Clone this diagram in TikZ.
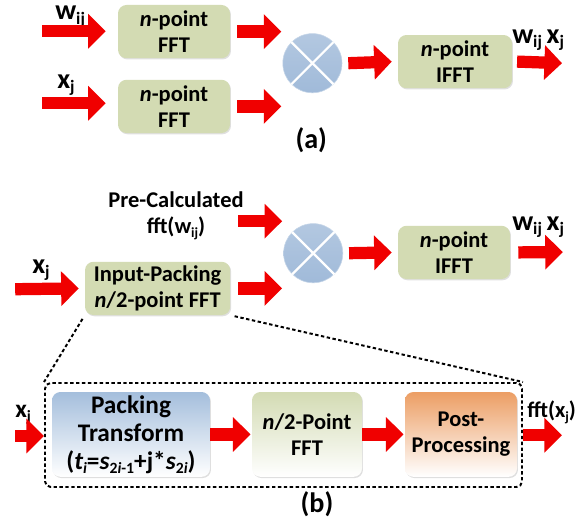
\documentclass[tikz,border=0pt]{standalone}
\usepackage{fontspec}
\setmainfont{Carlito}
\usetikzlibrary{arrows.meta, positioning, shapes.geometric, fit, shadows, calc}
\definecolor{boxgreen}{RGB}{211,219,179}
\definecolor{mulblue}{RGB}{160,186,217}
\definecolor{packblue}{RGB}{164,190,220}
\definecolor{postorange}{RGB}{236,158,100}
\definecolor{arrred}{RGB}{240,0,0}
\newcommand{\lo}[1]{\raisebox{-0.35ex}{\scalebox{0.62}{#1}}}

\begin{document}
\begin{tikzpicture}[
  font=\bfseries\fontsize{16}{18.5}\selectfont,
  blk/.style={rectangle, rounded corners=6pt, fill=boxgreen, align=center,
              minimum width=2.8cm, minimum height=1.33cm, inner sep=2pt,
              drop shadow={shadow xshift=0.7pt, shadow yshift=-0.9pt, opacity=0.25}},
  grad/.style={rectangle, rounded corners=6pt, align=center, bottom color=white,
               minimum height=2.12cm, inner sep=2pt,
               drop shadow={shadow xshift=0.7pt, shadow yshift=-0.9pt, opacity=0.25}},
  mul/.style={circle, minimum size=1.48cm, inner sep=0pt, top color=mulblue!80,
              bottom color=mulblue, draw=mulblue!60, line width=0.4pt},
  cross/.style={white, line width=1.6pt},
  arr/.style={-{Triangle[length=12.5pt, width=24pt]}, arrred, line width=8.7pt},
  lbl/.style={inner sep=0pt, anchor=base west, font=\bfseries\fontsize{20}{22}\selectfont},
  caption/.style={font=\bfseries\fontsize{20}{22}\selectfont},
  dsh/.style={line width=1.4pt, dash pattern=on 2.4pt off 1.8pt},
  zoom/.style={draw, dsh, rounded corners=4pt, inner sep=0pt}
]
\useasboundingbox (0,0) rectangle (14.675,-13.075);

% (a)
\node[blk] (fftw) at (4.35,-0.79) {\textit{n}-point\\FFT};
\node[blk] (fftx) at (4.35,-2.66) {\textit{n}-point\\FFT};
\node[mul] (mula) at (7.81,-1.58) {};
\draw[cross] (mula.45) -- (mula.225) (mula.135) -- (mula.315);
\node[blk, minimum width=2.85cm] (iffta) at (11.375,-1.54) {\textit{n}-point\\IFFT};
\coordinate (inw) at (1.05,-0.78);
\coordinate (inx) at (1.05,-2.58);
\coordinate (outa) at (14.05,-1.58);
\node[lbl] (lw) at (1.375,-0.5) {w\lo{ij}};
\node[lbl] (lx) at (1.425,-2.2) {x\lo{j}};
\node[lbl] (lwxa) at (12.8,-1.08) {w\lo{ij}\,x\lo{j}};
\draw[arr] (inw) -- ($(inw -| fftw.west)+(-0.3,0)$);
\draw[arr] (inx) -- ($(inx -| fftx.west)+(-0.3,0)$);
\draw[arr] ($(fftw.east)+(0.18,0)$) -- ($(fftw.east -| mula.west)+(-0.03,0)$);
\draw[arr] ($(fftx.east)+(0.18,0)$) -- ($(fftx.east -| mula.west)+(-0.03,0)$);
\draw[arr] ($(mula.east)+(0.15,0)$) -- ($(iffta.west)+(-0.15,0)$);
\draw[arr] ($(iffta.east)+(0.12,0)$) -- (outa);
\node[caption] (capa) at (7.78,-3.5) {(a)};

% (b)
\node[inner sep=1pt, align=center] (pre) at (4.4,-5.4) {Pre-Calculated\\fft(w\lo{ij})};
\node[mul] (mulb) at (7.83,-6.33) {};
\draw[cross] (mulb.45) -- (mulb.225) (mulb.135) -- (mulb.315);
\node[blk, minimum width=3.63cm] (inpk) at (3.94,-7.21) {Input-Packing\\\textit{n}/2-point FFT};
\node[blk] (ifftb) at (11.35,-6.31) {\textit{n}-point\\IFFT};
\coordinate (prew) at (5.95,-5.53);
\coordinate (inb) at (0.38,-7.23);
\coordinate (outb) at (14.07,-6.3);
\node[lbl] (lxb) at (0.8,-6.83) {x\lo{j}};
\node[lbl] (lwxb) at (12.8,-5.75) {w\lo{ij}\,x\lo{j}};
\draw[arr] (prew) -- ($(prew -| mulb.west)+(-0.03,0)$);
\draw[arr] (inb) -- ($(inpk.west)+(-0.15,0)$);
\draw[arr] ($(inpk.east)+(0.2,0)$) -- ($(inpk.east -| mulb.west)+(-0.03,0)$);
\draw[arr] ($(mulb.east)+(0.15,0)$) -- ($(ifftb.west)+(-0.15,0)$);
\draw[arr] ($(ifftb.east)+(0.2,0)$) -- (outb);

% zoomed packing
\node[grad, top color=packblue, minimum width=3.95cm, font=\bfseries\fontsize{18}{20}\selectfont] (pt) at (3.275,-10.86)
  {Packing\\Transform\\(\textit{t\lo{i}}=\textit{s}\lo{2\textit{i}-1}+j*\textit{s}\lo{2\textit{i}})};
\node[grad, top color=boxgreen, minimum width=2.75cm] (nfft) at (7.675,-10.86) {\textit{n}/2-Point\\FFT};
\node[grad, top color=postorange, minimum width=2.8cm] (post) at (11.525,-10.86) {Post-\\Processing};
\node[zoom, fit={(1.125,-9.575) (13.05,-12.175)}] (box) {};
\draw[dsh, shorten <=3pt] (inpk.south west) -- (box.north west);
\draw[dsh, shorten <=3pt] (inpk.south east) -- (box.north east);
\coordinate (inc) at (0.38,-10.9);
\coordinate (outc) at (14.05,-10.88);
\node[lbl, font=\bfseries\fontsize{18}{20}\selectfont] (lxc) at (0.375,-10.43) {x\lo{j}};
\node[lbl, font=\bfseries\fontsize{16}{18}\selectfont] (lfft) at (13.175,-10.43) {fft(x\lo{j})};
\draw[arr] (inc) -- (inc -| box.west);
\draw[arr] (pt.east) -- ($(nfft.west)+(-0.03,0)$);
\draw[arr] (nfft.east) -- ($(post.west)+(-0.03,0)$);
\draw[arr] (outc -| box.east) -- (outc);
\node[caption] (capb) at (7.925,-12.6) {(b)};
\end{tikzpicture}
\end{document}
